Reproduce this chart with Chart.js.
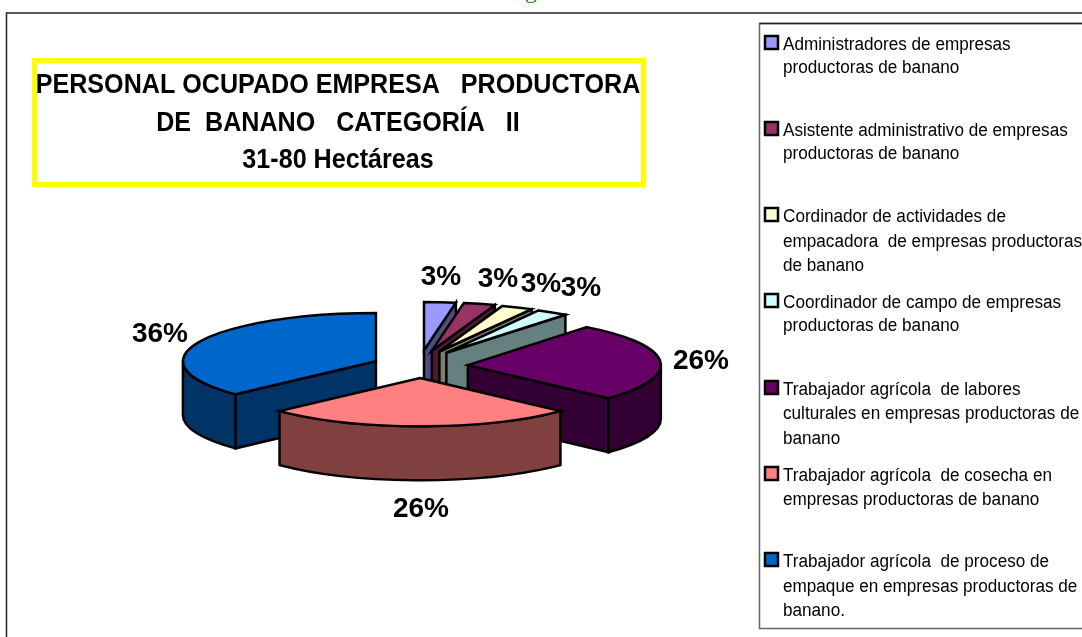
<!DOCTYPE html>
<html><head><meta charset="utf-8">
<style>html,body{margin:0;padding:0;background:#fff}canvas{display:block}</style>
<script src="https://cdn.jsdelivr.net/npm/chart.js@4"></script>
</head><body>
<canvas id="c" width="1082" height="637"></canvas>
<script>
const categories = [
  ["Administradores de empresas","productoras de banano"],
  ["Asistente administrativo de empresas","productoras de banano"],
  ["Cordinador de actividades de","empacadora  de empresas productoras","de banano"],
  ["Coordinador de campo de empresas","productoras de banano"],
  ["Trabajador agrícola  de labores","culturales en empresas productoras de","banano"],
  ["Trabajador agrícola  de cosecha en","empresas productoras de banano"],
  ["Trabajador agrícola  de proceso de","empaque en empresas productoras de","banano."]
];
const values = [2.6, 2.6, 2.6, 2.6, 26, 25.5, 36.4];
const colors = ["#9999FF","#993366","#FFFFCC","#CCFFFF","#660066","#FF8080","#0066CC"];
const titleLines = ["PERSONAL OCUPADO EMPRESA   PRODUCTORA","DE  BANANO   CATEGORÍA   II","31-80 Hectáreas"];

const RADIUS=193, DEPTH=54, EXPLODE=48, TILT=0.25;
const backSlice=[true,true,true,true,false,false,false];
const drawOrder=[0,1,2,3,6,4,5];
const labelPos=[[441,285],[498,287],[541,292],[581,296],[701,369],[421,517],[160,342]];
const legendBase=[[50,73],[136,159],[222,247,271],[308,331],[395,419,444],[481,505],[567,592,616]];
const FONT='"Liberation Sans", Arial, sans-serif';
const STROKE=2.5;

function darken(hex){
  const n=parseInt(hex.slice(1),16);
  const h=v=>Math.round(v/2).toString(16).padStart(2,'0');
  return '#'+h(n>>16&255)+h(n>>8&255)+h(n&255);
}
function squeezed(ctx,text,x,y,sq){ ctx.fillText(text,x,y,ctx.measureText(text).width*sq); }

const pie3d={
  id:'pie3d',
  beforeDatasetDraw(chart,args){
    const ctx=chart.ctx, arcs=args.meta.data;
    ctx.lineWidth=STROKE; ctx.strokeStyle='#000'; ctx.lineJoin='miter';
    drawOrder.forEach(i=>{
      const arc=arcs[i], a0=arc.startAngle, a1=arc.endAngle, mid=(a0+a1)/2;
      const k=backSlice[i]?0.33:TILT;
      const ax=arc.x+EXPLODE*Math.cos(mid), ay=arc.y+EXPLODE*Math.sin(mid)*k;
      const rx=arc.outerRadius, ry=arc.outerRadius*TILT;
      const pt=a=>[ax+rx*Math.cos(a),ay+ry*Math.sin(a)];
      const wall=darken(colors[i]);
      const quad=a=>{const p=pt(a);ctx.beginPath();ctx.moveTo(ax,ay);ctx.lineTo(p[0],p[1]);ctx.lineTo(p[0],p[1]+DEPTH);ctx.lineTo(ax,ay+DEPTH);ctx.closePath();ctx.fillStyle=wall;ctx.fill();ctx.stroke();};
      if(-Math.cos(a0)>1e-6) quad(a0);
      if(Math.cos(a1)>1e-6) quad(a1);
      const s=Math.max(a0,0), e=Math.min(a1,Math.PI);
      if(e>s){
        ctx.beginPath();
        ctx.ellipse(ax,ay,rx,ry,0,s,e);
        ctx.ellipse(ax,ay+DEPTH,rx,ry,0,e,s,true);
        ctx.closePath();ctx.fillStyle=wall;ctx.fill();ctx.stroke();
      }
      ctx.save();
      ctx.translate(ax,ay);ctx.scale(1,TILT);ctx.translate(-arc.x,-arc.y);
      arc.draw(ctx);
      ctx.restore();
      ctx.lineWidth=STROKE; ctx.strokeStyle='#000';
      ctx.beginPath();ctx.moveTo(ax,ay);ctx.ellipse(ax,ay,rx,ry,0,a0,a1);ctx.closePath();ctx.stroke();
    });
    return false;
  },
  afterDraw(chart){
    const ctx=chart.ctx;
    ctx.save();
    // outer frame
    ctx.strokeStyle='#222';ctx.lineWidth=1.5;
    ctx.beginPath();ctx.moveTo(6.5,637);ctx.lineTo(6.5,13);ctx.lineTo(1082,13);ctx.stroke();
    // clipped heading remnant
    ctx.fillStyle='#1a8a1a';ctx.font='24px "Liberation Serif", serif';ctx.textAlign='center';ctx.textBaseline='alphabetic';
    ctx.save();ctx.beginPath();ctx.rect(500,0,60,4);ctx.clip();ctx.fillText('g',531,-2);ctx.restore();
    // title box
    ctx.strokeStyle='#FFFF00';ctx.lineWidth=5;ctx.fillStyle='#fff';
    ctx.beginPath();ctx.rect(34.5,60.5,609,124);ctx.fill();ctx.stroke();
    ctx.fillStyle='#000';ctx.textAlign='center';ctx.font='bold 27px '+FONT;
    squeezed(ctx,titleLines[0],338,93,0.93);
    squeezed(ctx,titleLines[1],338,131,0.93);
    squeezed(ctx,titleLines[2],338,168,0.93);
    // percent labels
    ctx.font='bold 28px '+FONT;
    values.forEach((v,i)=>ctx.fillText(Math.round(v)+'%',labelPos[i][0],labelPos[i][1]));
    // legend
    ctx.strokeStyle='#666';ctx.lineWidth=1.5;
    ctx.beginPath();ctx.rect(759.5,23.5,340,605);ctx.stroke();
    ctx.strokeStyle='#222';ctx.beginPath();ctx.moveTo(759.5,23.5);ctx.lineTo(1082,23.5);ctx.stroke();
    ctx.textAlign='left';ctx.font='18px '+FONT;
    categories.forEach((lines,i)=>{
      const ys=legendBase[i];
      ctx.fillStyle=colors[i];ctx.strokeStyle='#000';ctx.lineWidth=2.5;
      ctx.beginPath();ctx.rect(765,ys[0]-14,13,13);ctx.fill();ctx.stroke();
      ctx.fillStyle='#000';
      lines.forEach((t,j)=>squeezed(ctx,t,783,ys[j],0.952));
    });
    ctx.restore();
  }
};

new Chart(document.getElementById('c'),{
  type:'pie',
  data:{labels:categories.map(l=>l.join(' ')),datasets:[{data:values,backgroundColor:colors,borderWidth:0}]},
  options:{
    responsive:false,animation:false,radius:RADIUS,
    layout:{padding:{left:0,right:242,top:95,bottom:0}},
    plugins:{legend:{display:false},tooltip:{enabled:false}},
    events:[]
  },
  plugins:[pie3d]
});
</script>
</body></html>
